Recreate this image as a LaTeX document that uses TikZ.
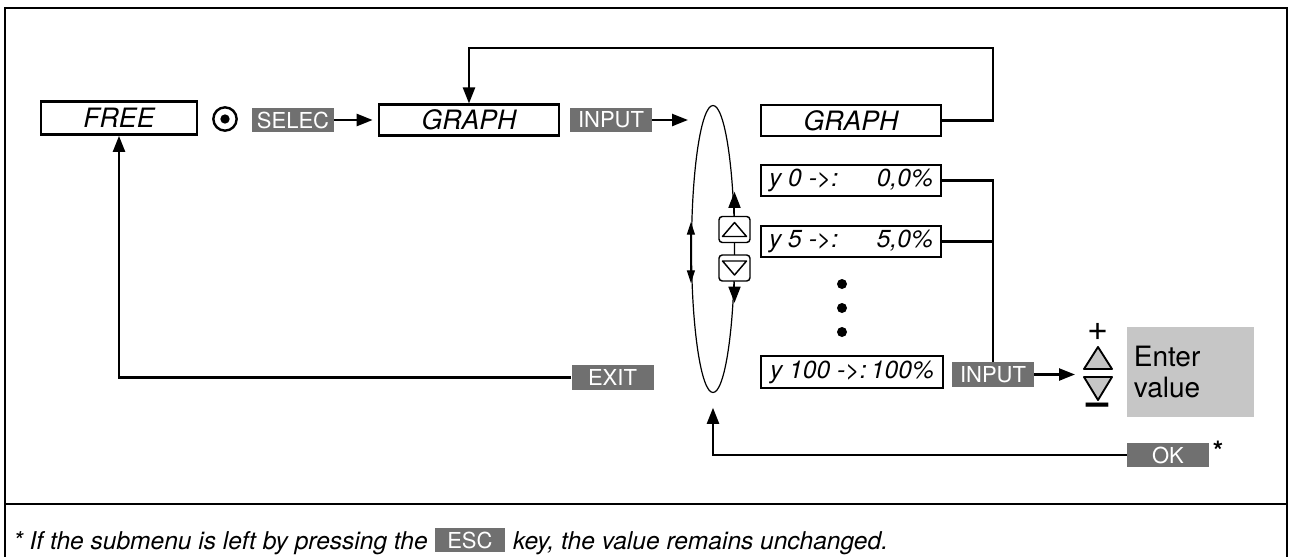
\documentclass[tikz,border=0pt]{standalone}
\usepackage{fontspec}
\setmainfont{TeX Gyre Heros}
\usetikzlibrary{positioning,shapes.geometric,arrows.meta,calc}
\definecolor{keygray}{HTML}{707070}
\definecolor{fieldgray}{HTML}{C6C6C6}
\newcommand{\valrow}[2]{\makebox[123pt]{#1\hfill#2}}

\begin{document}
\begin{tikzpicture}[
  x=0.75pt, y=-0.75pt,
  every node/.style={inner sep=0pt},
  menubox/.style={rectangle, draw, line width=1.8pt, minimum width=134.7pt,
                  minimum height=23pt, font=\fontsize{20}{22}\selectfont\itshape},
  valbox/.style={menubox, font=\fontsize{18.5}{20}\selectfont\itshape},
  key/.style={rectangle, fill=keygray, text=white, minimum width=61.5pt,
              minimum height=18.4pt, font=\fontsize{16.5}{17}\selectfont},
  btn/.style={rectangle, rounded corners=2.5pt, draw, fill=white, line width=1.1pt,
              minimum width=23.25pt, minimum height=19.5pt},
  bigdot/.style={circle, fill, minimum size=7.5pt},
  arr/.style={-{Triangle[length=12pt,width=9pt]}, line width=1.8pt},
  link/.style={line width=1.8pt},
  twoway/.style={{Triangle[length=9.5pt,width=6pt]}-{Triangle[length=9.5pt,width=6pt]},
                 line width=0.9pt},
  adjtri/.style={draw, fill=fieldgray, line width=1.4pt, line join=round},
  note/.style={font=\fontsize{18.4}{20}\selectfont\itshape, anchor=base west}
]
\useasboundingbox (0,0) rectangle (1290,557);

% frame and footnote rule
\draw[line width=1.3pt] (5,557) -- (5,8) -- (1287,8) -- (1287,557);
\draw[line width=1.3pt] (5,504) -- (1287,504);

% top row
\node[menubox, minimum width=116.7pt, minimum height=25pt] (free) at (119,118) {FREE};
\node[circle, draw, line width=1.8pt, minimum size=17.5pt] (sel) at (225,119) {};
\node[circle, fill, minimum size=7pt] (seldot) at (sel) {};
\node[key] (selec) at (293,120) {SELEC};
\node[menubox] (graph1) at (469,120) {GRAPH};
\node[key] (input1) at (611,120) {INPUT};
\coordinate (loopin) at (688,120);

% scroll loop with the up/down keys
\node[ellipse, draw, line width=0.9pt, minimum width=32.25pt,
      minimum height=215.25pt] (loop) at (713,249) {};
\node[btn] (btnup)   at (734.5,229.5) {};
\node[btn] (btndown) at (734.5,268) {};
\draw[line width=1.1pt, line join=round] ($(btnup)+(-12,7)$) -- ($(btnup)+(12,7)$)
  -- ($(btnup)+(0,-7)$) -- cycle;
\draw[line width=1.1pt, line join=round] ($(btndown)+(-12,-7)$) -- ($(btndown)+(12,-7)$)
  -- ($(btndown)+(0,7)$) -- cycle;

% graph menu entries
\node[menubox] (graph2) at (851,120.5) {GRAPH};
\node[valbox] (y0) at (851,180.5) {\valrow{y 0 ->:}{0,0\%}};
\node[valbox, below=21pt of y0] (y5) {\valrow{y 5 ->:}{5,0\%}};
\foreach \yy [count=\i] in {284,308,332}
  \node[bigdot] (dot\i) at (842,\yy) {};
\node[valbox, minimum width=136.2pt, minimum height=23.7pt] (y100) at (852,372)
  {\valrow{y 100 ->:}{100\%}};

% value entry
\node[key] (input2) at (993,374.5) {INPUT};
\coordinate (adjin) at (1075,374.5);
\coordinate (adj) at (1098,373);
\draw[adjtri] ($(adj)+(-14,-4)$) -- ($(adj)+(14,-4)$) -- ($(adj)+(0,-26)$) -- cycle;
\draw[adjtri] ($(adj)+(-14,4)$) -- ($(adj)+(14,4)$) -- ($(adj)+(0,27)$) -- cycle;
\node[font=\fontsize{27}{27}\selectfont] (plus) at (1098,332) {+};
\node[font=\fontsize{30}{30}\selectfont\bfseries] (minus) at (1098,409) {–};
\node[rectangle, fill=fieldgray, minimum width=95.25pt, minimum height=67.5pt,
      text width=85pt, inner xsep=5pt, align=left,
      font=\fontsize{21}{24}\selectfont] (entry) at (1190.5,372) {Enter\\value};
\node[key] (ok) at (1168,455) {OK};
\node[font=\fontsize{20}{20}\selectfont\bfseries] (star) at (1218,451) {*};
\node[key] (exit) at (612.5,377.5) {EXIT};

% connectors
\draw[arr] (selec.east) -- ([xshift=-4pt]graph1.west);
\draw[arr] (input1.east) -- (loopin);
\coordinate (back) at (993,48);
\draw[arr] (graph2.east) -| (back) -| (graph1.north);
\draw[arr, line width=1.2pt] (btnup.north) -- ++(0,-24);
\draw[arr, line width=1.2pt] (btndown.south) -- ++(0,21);
\draw[twoway] ($(loop.west)+(0,-27)$) -- ($(loop.west)+(0,34)$);
\draw[link] (y0.east) -| (input2.north);
\draw[link] (y5.east) -- (y5.east -| input2.north);
\draw[arr] (input2.east) -- (adjin);
\draw[arr, shorten >=11pt] (ok.west) -| (loop.south);
\draw[arr] (exit.west) -| (free.south);

% footnote
\node[note] (fn1) at (13,549) {* If the submenu is left by pressing the};
\node[key, minimum width=52pt, anchor=west] (esc) at ($(fn1.base east)+(7,-9)$) {ESC};
\node[note] (fn2) at ($(fn1.base -| esc.east)+(8,0)$) {key, the value remains unchanged.};

\end{tikzpicture}
\end{document}
